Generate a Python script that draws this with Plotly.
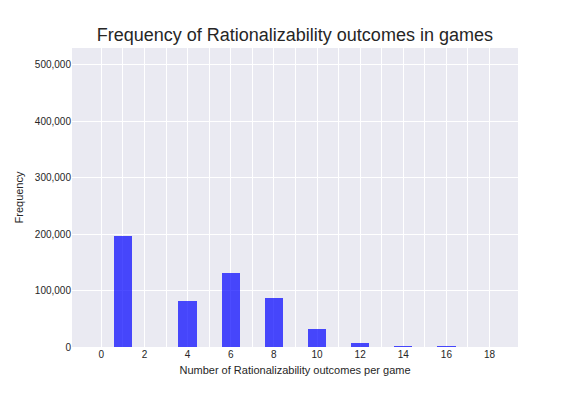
import plotly.graph_objects as go

outcomes = [1, 4, 6, 8, 10, 12, 14, 16]
frequency = [196800, 81300, 131000, 86700, 31600, 6700, 1800, 1800]
x_ticks = list(range(0, 19, 2))
x_minor = list(range(1, 19, 2))
y_ticks = [0, 100000, 200000, 300000, 400000, 500000]
y_labels = ["0", "100,000", "200,000", "300,000", "400,000", "500,000"]

fig = go.Figure()
fig.add_trace(go.Bar(
    x=outcomes, y=frequency, width=0.85,
    marker=dict(color="rgba(0,0,255,0.7)", line=dict(width=0)),
))

font = "Liberation Sans, Arial, sans-serif"
# page body has an 8px default margin; compensate so the plot lands where the reference has it
fig.update_layout(
    width=576, height=396,
    margin=dict(l=64, r=66, t=40, b=57),
    paper_bgcolor="white", plot_bgcolor="#EAEAF2",
    showlegend=False,
    font=dict(family=font, color="#262626"),
    title=dict(text="Frequency of Rationalizability outcomes in games",
               x=0.498, xanchor="center", y=1 - 27 / 396, yanchor="middle",
               font=dict(size=18, family=font, color="#262626")),
    bargap=0,
)
fig.update_xaxes(
    range=[-1.36, 19.32], tickmode="array", tickvals=x_ticks,
    ticktext=[str(v) for v in x_ticks],
    showgrid=True, gridcolor="white", gridwidth=1.2,
    minor=dict(tickmode="array", tickvals=x_minor, showgrid=True,
               gridcolor="white", gridwidth=1.2, ticks=""),
    zeroline=False, showline=False, ticks="",
    tickfont=dict(size=10, color="#262626"),
    title=dict(text="Number of Rationalizability outcomes per game",
               font=dict(size=11, color="#262626"), standoff=7),
)
fig.update_yaxes(
    range=[0, 530000], tickmode="array", tickvals=y_ticks, ticktext=y_labels,
    showgrid=True, gridcolor="white", gridwidth=1.2,
    zeroline=False, showline=False, ticks="",
    tickfont=dict(size=10, color="#262626"),
    title=dict(text="Frequency", font=dict(size=11, color="#262626"), standoff=8),
)
fig.write_html("out.html")
